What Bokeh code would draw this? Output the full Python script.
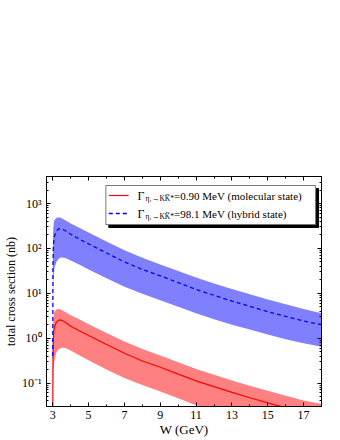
import math
from bokeh.plotting import figure
from bokeh.models import Range1d, FixedTicker, LinearAxis, LogAxis, Label, BoxAnnotation
from bokeh.embed import file_html
from bokeh.resources import INLINE

# ---------------- data ----------------
W = [3.0, 3.01, 3.03, 3.06, 3.1, 3.2, 3.3, 3.4, 3.5, 3.7, 4.0, 4.5, 5.0, 6.0, 7.0,
     8.0, 9.0, 10.0, 11.0, 12.0, 13.0, 14.0, 15.0, 16.0, 17.0, 18.0]
red_c = [0.004, 0.35, 0.95, 1.45, 1.8, 2.25, 2.48, 2.55, 2.5, 2.25, 1.85, 1.45, 1.15, 0.72, 0.46,
         0.31, 0.225, 0.158, 0.112, 0.083, 0.062, 0.047, 0.036, 0.028, 0.022, 0.018]
red_hi = [0.008, 1.2, 2.6, 3.5, 3.95, 4.35, 4.45, 4.4, 4.25, 3.85, 3.25, 2.6, 2.05, 1.3, 0.84,
          0.57, 0.41, 0.29, 0.205, 0.152, 0.114, 0.087, 0.067, 0.052, 0.041, 0.034]
red_lo = [0.002, 0.05, 0.15, 0.25, 0.33, 0.48, 0.55, 0.59, 0.61, 0.6, 0.53, 0.41, 0.32, 0.2, 0.13,
          0.09, 0.065, 0.046, 0.032, 0.024, 0.018, 0.014, 0.011, 0.009, 0.007, 0.006]
blue_c = [0.4, 38, 100, 155, 195, 243, 268, 277, 272, 247, 207, 160, 126, 79, 50,
          34, 24.5, 17.2, 12.2, 9.0, 6.7, 5.1, 3.9, 3.05, 2.4, 2.0]
blue_hi = [0.9, 130, 280, 380, 430, 475, 490, 485, 468, 425, 360, 285, 225, 142, 91,
           62, 44, 31.5, 22.5, 16.5, 12.4, 9.5, 7.3, 5.7, 4.45, 3.6]
blue_lo = [0.2, 5, 18, 28, 37, 50, 57, 62, 63, 61, 54, 43, 34, 21.5, 14,
           9.7, 7.0, 5.0, 3.6, 2.65, 2.0, 1.55, 1.2, 0.95, 0.77, 0.64]

x_ticks = [3, 5, 7, 9, 11, 13, 15, 17]
x_minor = [4, 6, 8, 10, 12, 14, 16, 18]
y_ticks = [0.1, 1, 10, 100, 1000]
y_tick_labels = ["10\u207b\u00b9", "10\u2070", "10\u00b9", "10\u00b2", "10\u00b3"]
legend_sub = "\u03b7\u2081\u2192KK\u0305*"
legend_texts = ["=0.90 MeV (molecular state)", "=98.1 MeV (hybrid state)"]
x_label = "W (GeV)"
y_label = "total cross section (nb)"

# ---------------- layout ----------------
X0, X1 = 2.65, 18.0
Y0, Y1 = 0.03, 4000.0
FONT = "Liberation Serif"
WIDTH, HEIGHT = 340, 440

# frame position in canvas pixels (used only for placing the legend)
FL, FR, FT, FB = 43, 321, 176, 406


def px_x(px):
    return X0 + (px - FL) / (FR - FL) * (X1 - X0)


def px_y(py):
    ly0, ly1 = math.log10(Y0), math.log10(Y1)
    return 10 ** (ly1 - (py - FT) / (FB - FT) * (ly1 - ly0))


p = figure(width=WIDTH, height=HEIGHT, x_range=Range1d(X0, X1), y_range=Range1d(Y0, Y1),
           y_axis_type="log", output_backend="svg", toolbar_location=None,
           min_border_left=FL, min_border_right=WIDTH - FR,
           min_border_top=FT, min_border_bottom=HEIGHT - FB)
p.title = None
p.xgrid.visible = False
p.ygrid.visible = False
p.outline_line_color = "black"
p.background_fill_color = "white"
p.border_fill_color = "white"

y_minor = [m * 10 ** e for e in range(-2, 4) for m in range(2, 10) if Y0 <= m * 10 ** e <= Y1]


def style_axis(ax, ticks, show_labels):
    ax.axis_line_color = "black"
    ax.axis_line_width = 1
    ax.major_tick_in = 4
    ax.major_tick_out = 0
    ax.minor_tick_in = 2
    ax.minor_tick_out = 0
    ax.major_tick_line_color = "black"
    ax.minor_tick_line_color = "black"
    ax.major_label_text_font = FONT
    ax.major_label_text_color = "black"
    ax.major_label_text_font_size = "12px"
    if show_labels:
        ax.major_label_standoff = 4
    else:
        ax.major_label_standoff = 0
        ax.major_label_overrides = {t: "" for t in ticks}


p.xaxis.ticker = FixedTicker(ticks=x_ticks, minor_ticks=x_minor)
p.yaxis.ticker = FixedTicker(ticks=y_ticks, minor_ticks=y_minor)
style_axis(p.xaxis[0], x_ticks, True)
style_axis(p.yaxis[0], y_ticks, True)
p.yaxis[0].major_label_overrides = {t: s for t, s in zip(y_ticks, y_tick_labels)}
p.yaxis[0].major_label_standoff = 5

p.xaxis[0].axis_label = x_label
p.xaxis[0].axis_label_text_font = FONT
p.xaxis[0].axis_label_text_font_style = "normal"
p.xaxis[0].axis_label_text_font_size = "13px"
p.xaxis[0].axis_label_text_color = "black"
p.xaxis[0].axis_label_standoff = 0

p.yaxis[0].axis_label = y_label
p.yaxis[0].axis_label_text_font = FONT
p.yaxis[0].axis_label_text_font_style = "normal"
p.yaxis[0].axis_label_text_font_size = "12px"
p.yaxis[0].axis_label_text_color = "black"
p.yaxis[0].axis_label_standoff = 1

top_ax = LinearAxis(ticker=FixedTicker(ticks=x_ticks, minor_ticks=x_minor))
style_axis(top_ax, x_ticks, False)
p.add_layout(top_ax, "above")
right_ax = LogAxis(ticker=FixedTicker(ticks=y_ticks, minor_ticks=y_minor))
style_axis(right_ax, y_ticks, False)
p.add_layout(right_ax, "right")

# ---------------- bands and lines ----------------
p.varea(x=W, y1=blue_lo, y2=blue_hi, fill_color="#8080ff", fill_alpha=1.0)
p.varea(x=W, y1=red_lo, y2=red_hi, fill_color="#ff8080", fill_alpha=1.0)
p.line(W, red_c, line_color="#ff0000", line_width=1.2)
p.line(W, blue_c, line_color="#0000ff", line_width=1.3, line_dash="4 3")

# ---------------- legend ----------------
p.add_layout(BoxAnnotation(left=px_x(106), right=px_x(318), top=px_y(188), bottom=px_y(227),
                           fill_color="black", fill_alpha=1.0, line_color="black", line_alpha=1.0))
p.add_layout(BoxAnnotation(left=px_x(103), right=px_x(315), top=px_y(185), bottom=px_y(224),
                           fill_color="white", fill_alpha=1.0, line_color="#777777",
                           line_width=1, line_alpha=1.0))

rows_y = [195, 213]
line_styles = [dict(line_color="#ff0000", line_width=1.2),
               dict(line_color="#0000ff", line_width=1.3, line_dash="4 3")]
for ry, txt, st in zip(rows_y, legend_texts, line_styles):
    p.line([px_x(106), px_x(126)], [px_y(ry), px_y(ry)], level="overlay", **st)
    p.add_layout(Label(x=px_x(135), y=px_y(ry), text="\u0393", text_font=FONT,
                       text_font_size="12px", text_baseline="middle", text_color="black"))
    p.add_layout(Label(x=px_x(143), y=px_y(ry + 3), text=legend_sub, text_font=FONT,
                       text_font_size="7.5px", text_baseline="middle", text_color="black"))
    p.add_layout(Label(x=px_x(172), y=px_y(ry), text=txt, text_font=FONT,
                       text_font_size="11px", text_baseline="middle", text_color="black"))

open("out.html", "w").write(file_html(p, INLINE))
